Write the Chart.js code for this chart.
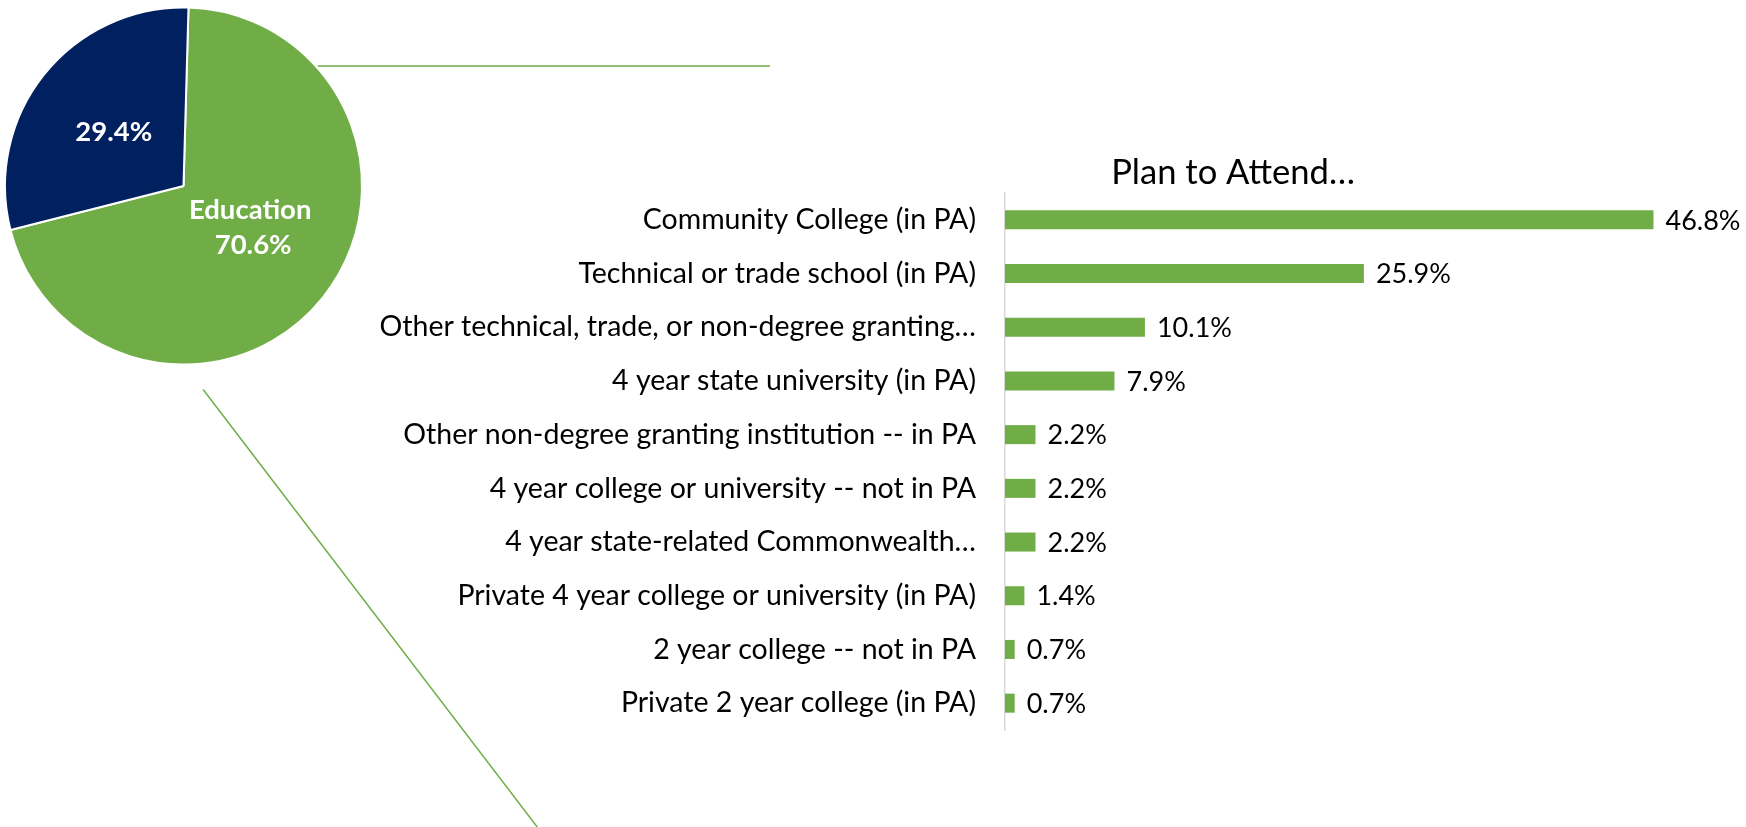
<!DOCTYPE html>
<html>
<head>
<meta charset="utf-8">
<title>Plan to Attend</title>
<script src="https://cdn.jsdelivr.net/npm/chart.js@4"></script>
<style>
    html, body { margin: 0; padding: 0; background: #fff; overflow: hidden; }
    #wrap { position: relative; width: 1746px; height: 827px; overflow: hidden; }
    #wrap canvas { position: absolute; top: 0; }
    #pieChart { left: 0; }
    /* bar canvas reaches past the right edge so that the title centres over x=1233 */
    #barChart { left: 340px; }
</style>
</head>
<body>
<div id="wrap">
    <canvas id="pieChart" width="780" height="827"></canvas>
    <canvas id="barChart" width="1786" height="827"></canvas>
</div>
<script>
// --- data --- //
const pieLabels = ['Education', ''];
const pieValues = [70.6, 29.4];
const pieColors = ['#70AD47', '#002060'];

const schoolLabels = [
    'Community College (in PA)',
    'Technical or trade school (in PA)',
    'Other technical, trade, or non-degree granting…',
    '4 year state university (in PA)',
    'Other non-degree granting institution -- in PA',
    '4 year college or university -- not in PA',
    '4 year state-related Commonwealth…',
    'Private 4 year college or university (in PA)',
    '2 year college -- not in PA',
    'Private 2 year college (in PA)'
];
const schoolValues = [46.8, 25.9, 10.1, 7.9, 2.2, 2.2, 2.2, 1.4, 0.7, 0.7];

const FONT = 'Lato, "Open Sans", sans-serif';
const GREEN = '#70AD47';

// --- pie: labels inside the slices + leader lines --- //
const pieLabelPlugin = {
    id: 'pieLabels',
    afterDatasetsDraw(chart) {
        const ctx = chart.ctx;
        const arcs = chart.getDatasetMeta(0).data;
        ctx.save();
        ctx.fillStyle = '#fff';
        ctx.font = 'bold 27.5px ' + FONT;
        ctx.textAlign = 'center';
        ctx.textBaseline = 'middle';
        arcs.forEach((arc, i) => {
            const p = arc.getCenterPoint();
            const pct = pieValues[i].toFixed(1) + '%';
            if (pieLabels[i]) {
                ctx.fillText(pieLabels[i], p.x - 3, p.y - 32);
                ctx.fillText(pct, p.x, p.y + 3);
            } else {
                ctx.fillText(pct, p.x, p.y + 2);
            }
        });
        ctx.restore();
    },
    afterDraw(chart) {
        const arc = chart.getDatasetMeta(0).data[0];
        const cx = arc.x, cy = arc.y, r = arc.outerRadius;
        const ctx = chart.ctx;
        // top line leaves the pie edge horizontally
        const yTop = cy - 0.672 * r;
        const xTop = cx + Math.sqrt(r * r - (yTop - cy) * (yTop - cy)) + 2;
        ctx.save();
        ctx.strokeStyle = GREEN;
        ctx.lineWidth = 1.5;
        ctx.beginPath();
        ctx.moveTo(xTop, yTop);
        ctx.lineTo(770, yTop);
        ctx.moveTo(cx + 0.11 * r, cy + 1.14 * r);
        ctx.lineTo(538, chart.height + 1);
        ctx.stroke();
        ctx.restore();
    }
};

new Chart(document.getElementById('pieChart'), {
    type: 'pie',
    data: {
        labels: pieLabels,
        datasets: [{
            data: pieValues,
            backgroundColor: pieColors,
            borderColor: '#fff',
            borderWidth: 2
        }]
    },
    options: {
        responsive: false,
        animation: false,
        rotation: 1.6,
        layout: { padding: { left: 4, right: 417, top: 6.5, bottom: 461.5 } },
        plugins: { legend: { display: false }, tooltip: { enabled: false } }
    },
    plugins: [pieLabelPlugin]
});

// --- bar: value labels at the end of each bar --- //
const valueLabelPlugin = {
    id: 'valueLabels',
    afterDatasetsDraw(chart) {
        const ctx = chart.ctx;
        ctx.save();
        ctx.fillStyle = '#000';
        ctx.font = '27px ' + FONT;
        ctx.textAlign = 'left';
        ctx.textBaseline = 'middle';
        chart.getDatasetMeta(0).data.forEach((bar, i) => {
            ctx.fillText(schoolValues[i].toFixed(1) + '%', bar.x + 12, bar.y + 1);
        });
        ctx.restore();
    }
};

new Chart(document.getElementById('barChart'), {
    type: 'bar',
    data: {
        labels: schoolLabels,
        datasets: [{
            data: schoolValues,
            backgroundColor: GREEN,
            categoryPercentage: 1,
            barPercentage: 0.354
        }]
    },
    options: {
        responsive: false,
        animation: false,
        indexAxis: 'y',
        layout: { padding: { left: 0, right: 0, top: 0, bottom: 97 } },
        plugins: {
            legend: { display: false },
            tooltip: { enabled: false },
            title: {
                display: true,
                text: 'Plan to Attend…',
                color: '#000',
                font: { family: FONT, size: 34.6, weight: 'normal', lineHeight: 1 },
                padding: { top: 155.7, bottom: 2.7 }
            }
        },
        scales: {
            // plot area runs off the page; max keeps 13.85px per percent
            x: { display: false, min: 0, max: 80.9 },
            y: {
                grid: { display: false, drawTicks: false },
                border: { display: true, color: '#d9d9d9', width: 1.5 },
                ticks: {
                    color: '#000',
                    font: { family: FONT, size: 28.5 },
                    padding: 29,
                    autoSkip: false
                },
                afterFit(scale) { scale.width = 665; }
            }
        }
    },
    plugins: [valueLabelPlugin]
});
</script>
</body>
</html>
